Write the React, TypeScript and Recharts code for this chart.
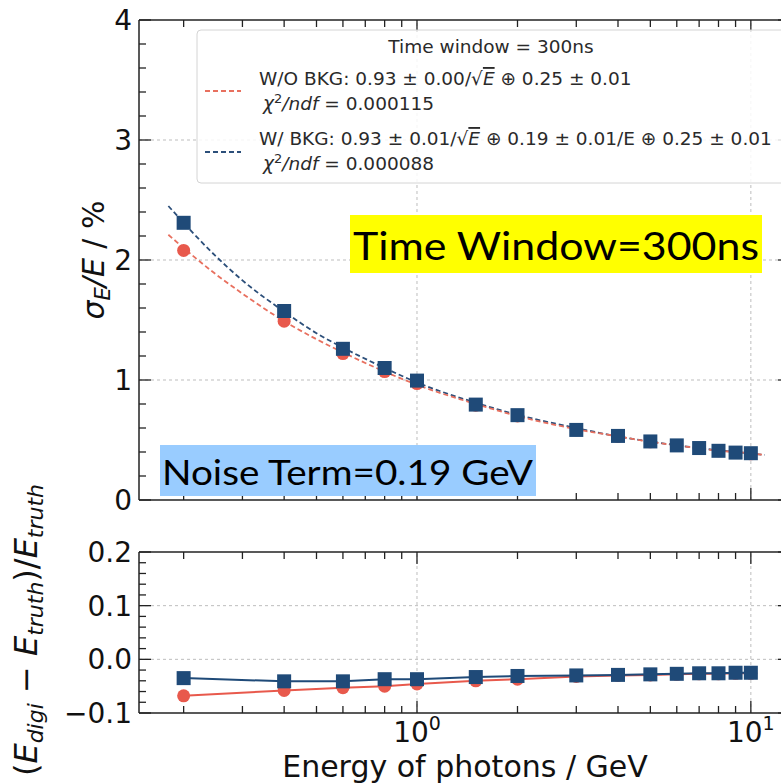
import { ComposedChart, Line, XAxis, YAxis, ReferenceLine } from 'recharts';

// photon energies (GeV) of the simulated points
const energies = [0.2, 0.4, 0.6, 0.8, 1, 1.5, 2, 3, 4, 5, 6, 7, 8, 9, 10];
// sigma_E / E in %
const resNoBkg = [2.08, 1.49, 1.22, 1.07, 0.97, 0.79, 0.7, 0.585, 0.53, 0.485, 0.455, 0.43, 0.41, 0.395, 0.385];
const resBkg = [2.31, 1.575, 1.26, 1.1, 0.995, 0.795, 0.707, 0.584, 0.534, 0.488, 0.455, 0.433, 0.41, 0.395, 0.39];
// fitted curves
const fitEnergies = [0.18, 0.25, 0.3, 0.4, 0.5, 0.6, 0.8, 1, 1.5, 2, 3, 4, 5, 6, 7, 8, 9, 11];
const fitNoBkg = [2.21, 1.88, 1.72, 1.49, 1.34, 1.23, 1.07, 0.96, 0.8, 0.7, 0.59, 0.53, 0.485, 0.455, 0.43, 0.41, 0.4, 0.376];
const fitBkg = [2.45, 2.03, 1.83, 1.57, 1.39, 1.27, 1.1, 0.98, 0.81, 0.71, 0.6, 0.53, 0.487, 0.456, 0.432, 0.414, 0.4, 0.376];
// (E_digi - E_truth) / E_truth
const biasNoBkg = [-0.068, -0.058, -0.053, -0.05, -0.046, -0.04, -0.037, -0.032, -0.03, -0.029, -0.028, -0.027, -0.027, -0.026, -0.026];
const biasBkg = [-0.035, -0.041, -0.041, -0.037, -0.037, -0.033, -0.031, -0.03, -0.029, -0.028, -0.027, -0.026, -0.026, -0.025, -0.025];

const xTicks = [0.2, 0.3, 0.4, 0.5, 0.6, 0.7, 0.8, 0.9, 1, 2, 3, 4, 5, 6, 7, 8, 9, 10];
const xMajor = [1, 10];
const topYTicks = [0, 0.2, 0.4, 0.6, 0.8, 1, 1.2, 1.4, 1.6, 1.8, 2, 2.2, 2.4, 2.6, 2.8, 3, 3.2, 3.4, 3.6, 3.8, 4];
const topYMajor = [0, 1, 2, 3, 4];
const botYTicks = [-0.1, -0.08, -0.06, -0.04, -0.02, 0, 0.02, 0.04, 0.06, 0.08, 0.1, 0.12, 0.14, 0.16, 0.18, 0.2];
const botYMajor = [-0.1, 0, 0.1, 0.2];
const botYLabels = ['\u22120.1', '0.0', '0.1', '0.2'];

const X_DOMAIN = [0.147, 13.1];
const RED = '#e8594c';
const BLUE = '#1f4a78';
const RED_FIT = '#e8705f';
const BLUE_FIT = '#2c4f7a';
const FONT = '"DejaVu Sans", sans-serif';

const points = (xs: number[], ys: number[]) => xs.map((e, i) => ({ e, v: ys[i] }));

const isMajor = (list: number[], v: number) => list.some((m) => Math.abs(m - v) < 1e-9);

const XTick = ({ x, y, payload, side, labels }: any) => {
  const major = isMajor(xMajor, payload.value);
  const len = major ? 12 : 7;
  const dir = side === 'top' ? 1 : -1;
  return (
    <g>
      <line x1={x} x2={x} y1={y} y2={y + dir * len} stroke="#222" strokeWidth={1.3} />
      {labels && major && (
        <text x={x} y={y + 29} textAnchor="middle" fontSize={28} fontFamily={FONT} fill="#111">
          10
          <tspan dy={-12} fontSize={19}>
            {Math.round(Math.log10(payload.value))}
          </tspan>
        </text>
      )}
    </g>
  );
};

const YTick = ({ x, y, payload, side, majors, labels, names }: any) => {
  const major = isMajor(majors, payload.value);
  const len = major ? 12 : 7;
  const dir = side === 'right' ? -1 : 1;
  const idx = majors.findIndex((m: number) => Math.abs(m - payload.value) < 1e-9);
  return (
    <g>
      <line x1={x} x2={x + dir * len} y1={y} y2={y} stroke="#222" strokeWidth={1.3} />
      {labels && major && (
        <text x={x - 7} y={y + 10} textAnchor="end" fontSize={28} fontFamily={FONT} fill="#111">
          {names ? names[idx] : payload.value}
        </text>
      )}
    </g>
  );
};

const Square = (props: any) => {
  const { cx, cy, index } = props;
  if (cx == null || cy == null) return <g key={index} />;
  return <rect key={index} x={cx - 7} y={cy - 7} width={14} height={14} fill={BLUE} />;
};

const Dot = (props: any) => {
  const { cx, cy, index } = props;
  if (cx == null || cy == null) return <g key={index} />;
  return <circle key={index} cx={cx} cy={cy} r={6.5} fill={RED} />;
};

const axisLine = { stroke: '#222', strokeWidth: 1.5 };
const grid = { stroke: '#bdbdbd', strokeDasharray: '3 3', strokeWidth: 1 };

// four spines with inward ticks, matplotlib style
function Axes({ yTicks, yMajor, yDomain, xLabels, yNames }: any) {
  return [
    <XAxis
      key="xb"
      xAxisId="b"
      dataKey="e"
      type="number"
      scale="log"
      domain={X_DOMAIN}
      allowDataOverflow
      ticks={xTicks}
      interval={0}
      height={1}
      tickSize={0}
      tickMargin={0}
      tickLine={false}
      axisLine={axisLine}
      tick={<XTick side="bottom" labels={xLabels} />}
    />,
    <XAxis
      key="xt"
      xAxisId="t"
      orientation="top"
      dataKey="e"
      type="number"
      scale="log"
      domain={X_DOMAIN}
      allowDataOverflow
      ticks={xTicks}
      interval={0}
      height={1}
      tickSize={0}
      tickMargin={0}
      tickLine={false}
      axisLine={axisLine}
      tick={<XTick side="top" />}
    />,
    <YAxis
      key="yl"
      yAxisId="l"
      type="number"
      domain={yDomain}
      allowDataOverflow
      ticks={yTicks}
      interval={0}
      width={1}
      tickSize={0}
      tickMargin={0}
      tickLine={false}
      axisLine={axisLine}
      tick={<YTick side="left" majors={yMajor} labels names={yNames} />}
    />,
    <YAxis
      key="yr"
      yAxisId="r"
      orientation="right"
      type="number"
      domain={yDomain}
      allowDataOverflow
      ticks={yTicks}
      interval={0}
      width={1}
      tickSize={0}
      tickMargin={0}
      tickLine={false}
      axisLine={axisLine}
      tick={<YTick side="right" majors={yMajor} />}
    />,
  ];
}

function Overlay() {
  return (
    <svg
      width={781}
      height={784}
      style={{ position: 'absolute', left: 0, top: 0, pointerEvents: 'none' }}
      fontFamily={FONT}
    >
      {/* legend */}
      <rect x={197} y={30} width={620} height={153} rx={4} fill="rgba(255,255,255,0.85)" stroke="#d4d4d4" />
      <text x={491} y={53} textAnchor="middle" fontSize={18.5} fill="#2a2a2a">
        Time window = 300ns
      </text>
      <line x1={205} x2={241} y1={91} y2={91} stroke={RED_FIT} strokeWidth={1.8} strokeDasharray="5 3" />
      <line x1={205} x2={241} y1={152} y2={152} stroke={BLUE_FIT} strokeWidth={1.8} strokeDasharray="5 3" />
      <text x={259} y={85} fontSize={18.5} fill="#2a2a2a">
        W/O BKG: 0.93 ± 0.00/√<tspan fontStyle="italic" textDecoration="overline">E</tspan> ⊕ 0.25 ± 0.01
      </text>
      <text x={263} y={110} fontSize={18.5} fill="#2a2a2a">
        <tspan fontStyle="italic">χ</tspan>
        <tspan dy={-7} fontSize={13}>2</tspan>
        <tspan dy={7} fontStyle="italic">/ndf</tspan> = 0.000115
      </text>
      <text x={259} y={145} fontSize={18.5} fill="#2a2a2a">
        W/ BKG: 0.93 ± 0.01/√<tspan fontStyle="italic" textDecoration="overline">E</tspan> ⊕ 0.19 ± 0.01/E ⊕ 0.25 ± 0.01
      </text>
      <text x={263} y={170} fontSize={18.5} fill="#2a2a2a">
        <tspan fontStyle="italic">χ</tspan>
        <tspan dy={-7} fontSize={13}>2</tspan>
        <tspan dy={7} fontStyle="italic">/ndf</tspan> = 0.000088
      </text>

      {/* highlighted notes */}
      <rect x={350} y={215} width={412} height={58} fill="#ffff00" />
      <text x={353} y={260} fontSize={39} fontFamily="Lato, sans-serif" fill="#000" textLength={406} lengthAdjust="spacingAndGlyphs">
        Time Window=300ns
      </text>
      <rect x={160} y={445} width={376} height={51} fill="#99ccff" />
      <text x={162} y={485} fontSize={35} fontFamily="Lato, sans-serif" fill="#000" textLength={371} lengthAdjust="spacingAndGlyphs">
        Noise Term=0.19 GeV
      </text>

      {/* axis titles */}
      <text x={465} y={777} textAnchor="middle" fontSize={30} fill="#111">
        Energy of photons / GeV
      </text>
      <text transform="translate(104,260) rotate(-90)" textAnchor="middle" fontSize={30} fill="#111">
        <tspan fontStyle="italic">σ</tspan>
        <tspan fontStyle="italic" fontSize={21} dy={6}>E</tspan>
        <tspan fontStyle="italic" dy={-6}>/E</tspan> / %
      </text>
      <text transform="translate(37,630) rotate(-90)" textAnchor="middle" fontSize={32} fill="#111">
        (<tspan fontStyle="italic">E</tspan>
        <tspan fontStyle="italic" fontSize={22} dy={6}>digi</tspan>
        <tspan dy={-6}> − </tspan>
        <tspan fontStyle="italic">E</tspan>
        <tspan fontStyle="italic" fontSize={22} dy={6}>truth</tspan>
        <tspan dy={-6}>)/</tspan>
        <tspan fontStyle="italic">E</tspan>
        <tspan fontStyle="italic" fontSize={22} dy={6}>truth</tspan>
      </text>
    </svg>
  );
}

export default function App() {
  const ptsNoBkg = points(energies, resNoBkg);
  const ptsBkg = points(energies, resBkg);
  const curveNoBkg = points(fitEnergies, fitNoBkg);
  const curveBkg = points(fitEnergies, fitBkg);
  const devNoBkg = points(energies, biasNoBkg);
  const devBkg = points(energies, biasBkg);

  return (
    <div
      style={{
        position: 'absolute',
        left: 0,
        top: 0,
        width: 781,
        height: 784,
        overflow: 'hidden',
        background: '#fff',
        fontFamily: FONT,
      }}
    >
      <div style={{ position: 'absolute', left: 0, top: 0 }}>
        <ComposedChart width={800} height={530} margin={{ top: 19, right: 9, bottom: 29, left: 138 }}>
          {Axes({ yTicks: topYTicks, yMajor: topYMajor, yDomain: [0, 4], xLabels: false })}
          {[1, 10].map((v) => (
            <ReferenceLine key={`gx${v}`} x={v} xAxisId="b" yAxisId="l" {...grid} />
          ))}
          {[1, 2, 3].map((v) => (
            <ReferenceLine key={`gy${v}`} y={v} xAxisId="b" yAxisId="l" {...grid} />
          ))}
          <Line data={ptsNoBkg} dataKey="v" xAxisId="b" yAxisId="l" stroke="none" dot={Dot} activeDot={false} isAnimationActive={false} />
          <Line data={ptsBkg} dataKey="v" xAxisId="b" yAxisId="l" stroke="none" dot={Square} activeDot={false} isAnimationActive={false} />
          <Line data={curveBkg} dataKey="v" xAxisId="b" yAxisId="l" type="monotone" stroke={BLUE_FIT} strokeWidth={1.8} strokeDasharray="5 3" dot={false} activeDot={false} isAnimationActive={false} />
          <Line data={curveNoBkg} dataKey="v" xAxisId="b" yAxisId="l" type="monotone" stroke={RED_FIT} strokeWidth={1.8} strokeDasharray="5 3" dot={false} activeDot={false} isAnimationActive={false} />
        </ComposedChart>
      </div>
      <div style={{ position: 'absolute', left: 0, top: 530 }}>
        <ComposedChart width={800} height={254} margin={{ top: 21, right: 9, bottom: 70, left: 138 }}>
          {Axes({ yTicks: botYTicks, yMajor: botYMajor, yDomain: [-0.1, 0.2], xLabels: true, yNames: botYLabels })}
          {[1, 10].map((v) => (
            <ReferenceLine key={`gx${v}`} x={v} xAxisId="b" yAxisId="l" {...grid} />
          ))}
          {[0, 0.1].map((v) => (
            <ReferenceLine key={`gy${v}`} y={v} xAxisId="b" yAxisId="l" {...grid} />
          ))}
          <Line data={devNoBkg} dataKey="v" xAxisId="b" yAxisId="l" stroke={RED} strokeWidth={2} dot={Dot} activeDot={false} isAnimationActive={false} />
          <Line data={devBkg} dataKey="v" xAxisId="b" yAxisId="l" stroke={BLUE} strokeWidth={2} dot={Square} activeDot={false} isAnimationActive={false} />
        </ComposedChart>
      </div>
      <Overlay />
    </div>
  );
}
